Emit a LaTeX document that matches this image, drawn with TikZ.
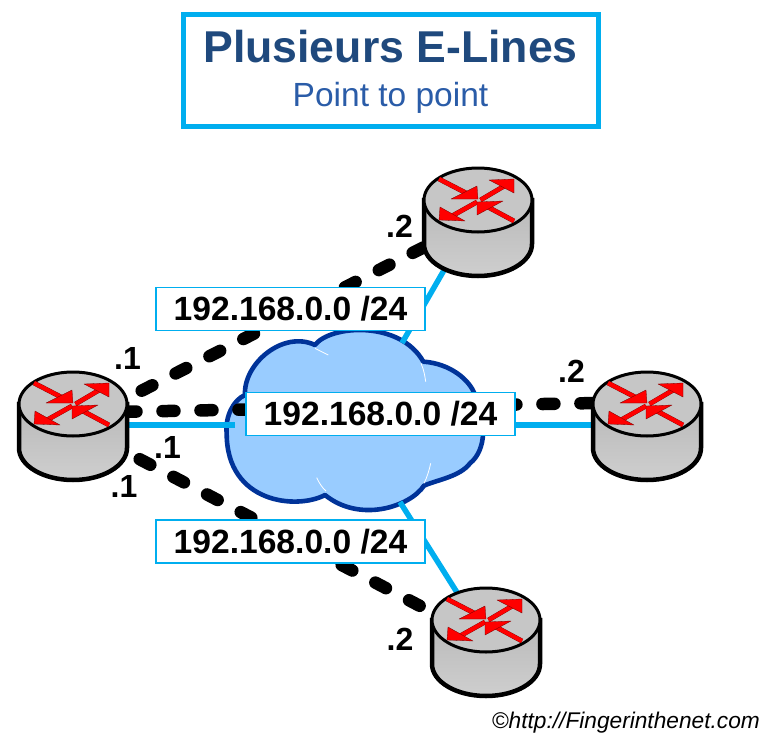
\documentclass[tikz,border=0pt]{standalone}
\usepackage{fontspec}
\setmainfont{Liberation Sans}
\definecolor{linkblue}{HTML}{00AEEF}
\definecolor{titleblue}{HTML}{1F497D}
\definecolor{subblue}{HTML}{2A5CA8}
\definecolor{cloudfill}{HTML}{99CCFF}
\definecolor{cloudedge}{HTML}{003399}
\definecolor{rtop}{HTML}{C6C6C6}
\tikzset{
  x=1pt,y=-1pt,
  link/.style={draw=linkblue,line width=5.5pt},
  evc/.style={draw=black,line width=12.5pt,line cap=round,dash pattern=on 12pt off 26pt},
  netlabel/.style={draw=linkblue,line width=1.6pt,fill=white,minimum width=269pt,minimum height=43pt,inner sep=0pt,font=\fontsize{33.6}{33.6}\selectfont\bfseries},
  addr/.style={inner sep=0pt,font=\fontsize{32}{32}\selectfont\bfseries},
  rout/.style={draw=red!45!black,line width=4.8pt},
  rarrow/.style={draw=red,line width=4.2pt},
  rhead/.style={fill=red,draw=red!45!black,line width=.3pt,line join=round},
  pics/router/.style={code={
    \path[draw=black,line width=4.5pt,top color=gray!55,bottom color=gray!38] (-54,0) -- (-54,44) arc[start angle=180,end angle=0,x radius=54,y radius=32] -- (54,0) -- cycle;
    \path[draw=black,line width=3pt,fill=rtop] (0,0) ellipse[x radius=54,y radius=32];
    \draw[rout] (2.5,0) -- (28,-15);
    \draw[rout] (-1,2) -- (-26,16);
    \draw[rout] (36,21) -- (8,6);
    \draw[rout] (-39,-21) -- (-10,-6);
    \draw[rarrow] (2.5,0) -- (28,-15);
    \path[rhead] (11,-20) -- (36,-21) -- (36,-7) -- cycle;
    \draw[rarrow] (-1,2) -- (-26,16);
    \path[rhead] (-38,7) -- (-39,20) -- (-13,21) -- cycle;
    \draw[rarrow] (36,21) -- (8,6);
    \path[rhead] (-1,2) -- (25,1) -- (-1,15) -- cycle;
    \draw[rarrow] (-39,-21) -- (-10,-6);
    \path[rhead] (0,-1) -- (-27,-1) -- (-1,-14) -- cycle;
  }},
}
\begin{document}
\begin{tikzpicture}
\useasboundingbox (0,0) rectangle (780,742);
% title
\node[draw=linkblue,line width=5pt,fill=white,minimum width=415pt,minimum height=112pt,inner sep=0pt] (titlebox) at (390.5,70) {};
\node[inner sep=0pt,text=titleblue,font=\fontsize{44.6}{44.6}\selectfont\bfseries] (title) at (390.5,47) {Plusieurs E-Lines};
\node[inner sep=0pt,text=subblue,font=\fontsize{33.5}{33.5}\selectfont] (subtitle) at (390.5,97.5) {Point to point};
% cloud
\begin{scope}[shift={(220,320)},x=1/3*1pt,y=-1/3*1pt]
  \path[draw=cloudedge,line width=4.6pt,fill=cloudfill,line join=round]
    (20,340) .. controls (15,290) and (40,240) .. (75,225)
    .. controls (70,130) and (190,30) .. (285,75)
    .. controls (330,15) and (540,0) .. (610,125)
    .. controls (690,130) and (750,180) .. (765,225)
    .. controls (800,300) and (800,390) .. (750,430)
    .. controls (720,470) and (650,480) .. (612,497)
    .. controls (570,560) and (420,610) .. (315,525)
    .. controls (230,570) and (20,550) .. (20,340) -- cycle;
  \draw[white,line width=.8pt] (285,85) -- (325,105);
  \draw[white,line width=.8pt] (603,130) .. controls (612,150) and (615,170) .. (617,185);
  \draw[white,line width=.8pt] (632,430) .. controls (628,450) and (620,475) .. (612,490);
  \draw[white,line width=.8pt] (290,473) .. controls (298,490) and (308,505) .. (318,513);
\end{scope}
% router anchors
\coordinate (rL) at (73,404);
\coordinate (rT) at (478,200);
\coordinate (rR) at (647,404);
\coordinate (rB) at (486,620);
\coordinate (cL) at (235,425);
\coordinate (cR) at (510,425);
\coordinate (cT) at (402,343);
\coordinate (cB) at (400,502);
\coordinate (lLa) at (128,425);
\coordinate (lRa) at (592,425);
\coordinate (lTa) at (447,265);
\coordinate (lBa) at (458,594);
\coordinate (dLt) at (141.7,390.7);
\coordinate (dTa) at (438,240);
\coordinate (dLm) at (124.5,411.8);
\coordinate (dRa) at (597,403);
\coordinate (dLb) at (139.7,459.2);
\coordinate (dBa) at (421,606.5);
% links
\draw[link] (lLa) -- (cL);
\draw[link] (cR) -- (lRa);
\draw[link] (cT) -- (lTa);
\draw[link] (cB) -- (lBa);
\draw[evc] (dLt) -- (dTa);
\draw[evc] (dLm) -- (dRa);
\draw[evc] (dLb) -- (dBa);
% routers
\pic at (rL) {router};
\pic at (rT) {router};
\pic at (rR) {router};
\pic at (rB) {router};
% network labels
\node[netlabel] (nT) at (290.5,309) {192.168.0.0 /24};
\node[netlabel] (nM) at (380.5,414) {192.168.0.0 /24};
\node[netlabel] (nB) at (290.5,541.5) {192.168.0.0 /24};
% addresses
\node[addr] (a1) at (127.5,358.5) {.1};
\node[addr] (a2) at (167.5,447) {.1};
\node[addr] (a3) at (124,486) {.1};
\node[addr] (a4) at (399.5,226) {.2};
\node[addr] (a5) at (571.5,371) {.2};
\node[addr] (a6) at (400,639) {.2};
\node[anchor=east,inner sep=0pt,font=\fontsize{22.7}{22.7}\selectfont\itshape] (credit) at (760,723) {©http://Fingerinthenet.com};
\end{tikzpicture}
\end{document}
